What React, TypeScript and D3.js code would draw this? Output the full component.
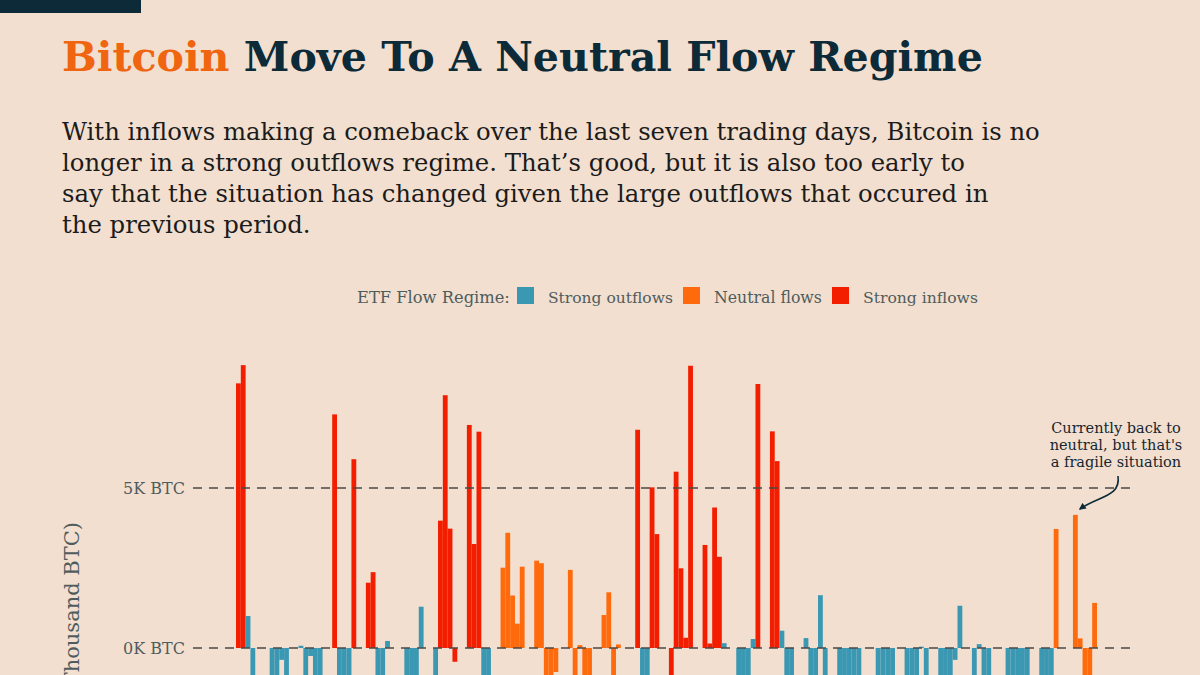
import React, { useEffect, useRef } from "react";
import * as d3 from "d3";

// ---- DATA ----
// trading-day slot index (calendar slots, weekends leave gaps)
const dayIndex = [
  0, 1, 2, 3, 7, 8, 9, 10, 13, 14, 15, 16, 17, 20, 21, 22, 23, 24, 27, 28, 29, 30, 31,
  35, 36, 37, 38, 41, 42, 43, 44, 45, 48, 49, 50, 51, 52, 55, 56, 57, 58, 59, 62, 63, 64,
  65, 66, 69, 70, 71, 72, 73, 76, 77, 78, 79, 83, 84, 85, 86, 87, 90, 91, 92, 93, 94, 97,
  98, 99, 100, 101, 104, 105, 106, 107, 108, 111, 112, 113, 114, 115, 118, 119, 120, 121,
  122, 125, 126, 127, 128, 129, 133, 134, 135, 136, 139, 140, 141, 142, 143, 146, 147, 148,
  149, 150, 153, 154, 155, 156, 160, 161, 162, 163, 164, 167, 168, 169, 170, 174, 175, 176,
  177, 178,
];
// net flow, thousand BTC (same order as dayIndex)
const flows = [
  8.27, 8.84, 1.0, -1.6, -1.4, -1.2, -0.37, -1.3, 0.07, -1.5, -0.25, -1.1, -1.4, 7.3, -2.0, -1.6, -1.3, 5.9, 2.04, 2.37, -1.0, -1.3, 0.22,
  -1.2, -1.5, -1.0, 1.29, -1.4, 3.98, 7.9, 3.73, -0.43, 6.97, 3.25, 6.76, -2.0, -1.5, 2.51, 3.6, 1.64, 0.76, 2.54, 2.73, 2.65, -1.5,
  -1.2, -0.75, 2.44, -1.3, 0.09, -1.2, -1.0, 1.03, 1.74, -1.1, 0.11, 6.82, -1.8, -1.3, 5.02, 3.56, -1.5, 5.51, 2.49, 0.32, 8.82, 3.22,
  0.14, 4.39, 2.85, 0.15, -1.6, -1.3, -1.0, 0.28, 8.25, 6.77, 5.84, 0.54, -1.7, -1.2, 0.31, -1.4, -1.1, 1.65,
  -1.3, -1.6, -1.4, -1.8, -1.2, -1.5, -1.5, -1.3, -1.7, -1.2, -1.4, -1.6, -1.1, 0.04, -1.3, -1.5, -1.2, -1.4,
  -0.37, 1.32, -1.2, 0.12, -1.4, -1.1, -1.3, -1.6, -1.2, -1.5, -1.1, -1.4, -1.2, -1.6, 3.72, 4.16, 0.3, -1.3,
  -0.9, 1.41,
];
// regime: O = strong outflows, N = neutral flows, I = strong inflows (same order, same line grouping)
const regimes = [
  "IIOOOOOOOOOOOIOOOIIIOOO",
  "OOOOOIIIIIIIOONNNNNNNN",
  "NNNNNNNNNNNIOOIIIIIIII",
  "IIIOOOOOIIIOOOOOOO",
  "OOOOOOOOOOOOOOOOOO",
  "OOOOOOOOOOOOOONNNN",
  "NN",
].join("").split("");

const legendTitle = "ETF Flow Regime:";
const regimeKeys = ["O", "N", "I"];
const regimeNames = ["Strong outflows", "Neutral flows", "Strong inflows"];
const regimeColors: Record<string, string> = { O: "#3a98b3", N: "#ff6a0c", I: "#f31d00" };

const yTickValues = [0, 5];
const yTickLabels = ["0K BTC", "5K BTC"];
const yAxisTitle = "ETF Net Flows (Thousand BTC)";

const titleAccent = "Bitcoin";
const titleRest = " Move To A Neutral Flow Regime";
const subtitleLines = [
  "With inflows making a comeback over the last seven trading days, Bitcoin is no",
  "longer in a strong outflows regime. That\u2019s good, but it is also too early to",
  "say that the situation has changed given the large outflows that occured in",
  "the previous period.",
];
const annotationLines = ["Currently back to", "neutral, but that's", "a fragile situation"];

const BG = "#f2dfcf";
const NAVY = "#0c2a37";
const GREY = "#4f5c5e";
const FONT = "'DejaVu Serif', Georgia, serif";

export default function App() {
  const ref = useRef<SVGSVGElement>(null);

  useEffect(() => {
    const svg = d3.select(ref.current);
    svg.selectAll("*").remove();

    const fit = (sel: any, target: number) => {
      const node = sel.node() as SVGTextElement;
      const w = node.getComputedTextLength();
      const fs = parseFloat(sel.attr("font-size"));
      const nfs = (fs * target) / w;
      sel.attr("font-size", nfs);
      return nfs;
    };

    svg.append("rect").attr("width", 1200).attr("height", 675).attr("fill", BG);
    svg.append("rect").attr("x", 0).attr("y", 0).attr("width", 141).attr("height", 13).attr("fill", NAVY);

    // Title
    const title = svg
      .append("text")
      .attr("x", 62)
      .attr("y", 71)
      .attr("font-family", FONT)
      .attr("font-weight", "bold")
      .attr("font-size", 44)
      .attr("fill", NAVY);
    title.append("tspan").attr("fill", "#f0650f").text(titleAccent);
    title.append("tspan").text(titleRest);
    fit(title, 921);

    // Subtitle
    const subs = subtitleLines.map((line, i) =>
      svg
        .append("text")
        .attr("x", 62)
        .attr("y", 140 + i * 31)
        .attr("font-family", FONT)
        .attr("font-size", 24)
        .attr("fill", "#1b1b1b")
        .text(line)
    );
    const sfs = fit(subs[0], 978);
    subs.forEach((s) => s.attr("font-size", sfs));

    // Legend (laid out left to right; widths fitted to the reference)
    const legendWidths = [153, 125, 108, 115];
    const lg = svg
      .append("text")
      .attr("x", 357)
      .attr("y", 303)
      .attr("font-family", FONT)
      .attr("font-size", 17)
      .attr("fill", GREY)
      .text(legendTitle);
    fit(lg, legendWidths[0]);
    let lx = 357 + legendWidths[0] + 7;
    regimeKeys.forEach((k, i) => {
      svg.append("rect").attr("x", lx).attr("y", 287).attr("width", 17).attr("height", 17).attr("fill", regimeColors[k]);
      lx += 17 + 14;
      const t = svg
        .append("text")
        .attr("x", lx)
        .attr("y", 303)
        .attr("font-family", FONT)
        .attr("font-size", 17)
        .attr("fill", GREY)
        .text(regimeNames[i]);
      fit(t, legendWidths[i + 1]);
      lx += legendWidths[i + 1] + 10;
    });

    // Scales
    const step = 4.81;
    const x = d3.scaleLinear().domain([0, 178]).range([236, 236 + 178 * step]);
    const y = d3.scaleLinear().domain([0, 5]).range([648, 488]);

    // Bars
    const data = dayIndex.map((d, i) => ({ d, v: flows[i], r: regimes[i] }));
    svg
      .append("g")
      .selectAll("rect")
      .data(data)
      .join("rect")
      .attr("x", (p) => x(p.d))
      .attr("width", x(1) - x(0))
      .attr("y", (p) => y(Math.max(0, p.v)))
      .attr("height", (p) => Math.abs(y(p.v) - y(0)))
      .attr("fill", (p) => regimeColors[p.r]);

    // Gridlines + tick labels
    yTickValues.forEach((v, i) => {
      svg
        .append("line")
        .attr("x1", 193)
        .attr("x2", 1133)
        .attr("y1", y(v))
        .attr("y2", y(v))
        .attr("stroke", "#4a4a4a")
        .attr("stroke-width", 1.4)
        .attr("stroke-dasharray", "9,7");
      svg
        .append("text")
        .attr("x", 185)
        .attr("y", y(v) + 6)
        .attr("text-anchor", "end")
        .attr("font-family", FONT)
        .attr("font-size", 16)
        .attr("fill", GREY)
        .text(yTickLabels[i]);
    });

    // Y axis title (continues below the visible frame, as in the reference)
    svg
      .append("text")
      .attr("transform", "translate(79,522) rotate(-90)")
      .attr("text-anchor", "end")
      .attr("font-family", FONT)
      .attr("font-size", 21)
      .attr("fill", GREY)
      .text(yAxisTitle);

    // Annotation
    annotationLines.forEach((l, i) => {
      svg
        .append("text")
        .attr("x", 1116)
        .attr("y", 433 + i * 17)
        .attr("text-anchor", "middle")
        .attr("font-family", FONT)
        .attr("font-size", 14.5)
        .attr("fill", "#172630")
        .text(l);
    });
    const defs = svg.append("defs");
    defs
      .append("marker")
      .attr("id", "ah")
      .attr("viewBox", "0 0 10 10")
      .attr("refX", 8)
      .attr("refY", 5)
      .attr("markerWidth", 7)
      .attr("markerHeight", 7)
      .attr("orient", "auto")
      .attr("markerUnits", "userSpaceOnUse")
      .append("path")
      .attr("d", "M0,0 L10,5 L0,10 z")
      .attr("fill", NAVY);
    svg
      .append("path")
      .attr("d", "M1118,476 C1121,497 1098,496 1080,509")
      .attr("fill", "none")
      .attr("stroke", NAVY)
      .attr("stroke-width", 1.6)
      .attr("marker-end", "url(#ah)");
  }, []);

  return (
    <svg
      ref={ref}
      width={1200}
      height={675}
      style={{ position: "absolute", left: 0, top: 0, display: "block" }}
    />
  );
}
